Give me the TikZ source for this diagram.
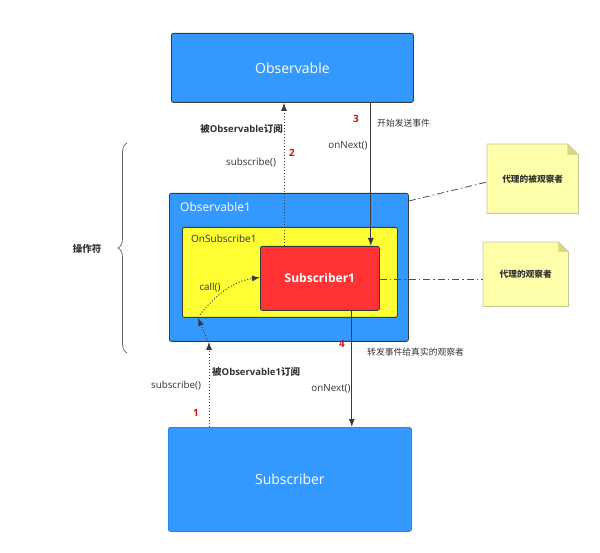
\documentclass[tikz,border=0pt]{standalone}
\usepackage{fontspec}
\setmainfont{Open Sans}
\newfontfamily\cjk{Noto Sans CJK SC}
\usetikzlibrary{arrows.meta,calc,decorations.pathreplacing}
\definecolor{boxblue}{HTML}{3399FF}
\definecolor{bluedge}{HTML}{2B86E0}
\definecolor{edgegray}{HTML}{3A3A3A}
\definecolor{subred}{HTML}{FF3333}
\definecolor{osyellow}{HTML}{FFFF33}
\definecolor{notefill}{HTML}{FFFFAA}
\definecolor{noteedge}{HTML}{C8C8A0}
\definecolor{notefold}{HTML}{D8D880}
\definecolor{numred}{HTML}{CC1111}
\definecolor{txt}{HTML}{333333}
\tikzset{
  box/.style={rectangle, anchor=north west, inner sep=0pt, rounded corners=2pt, line width=0.8pt},
  bluebox/.style={box, fill=boxblue, draw=edgegray},
  lbl/.style={inner sep=0pt, text=txt, font=\fontsize{9.8}{11}\selectfont},
  blbl/.style={lbl, font=\fontsize{9.5}{11}\selectfont\bfseries},
  num/.style={inner sep=0pt, text=numred, font=\fontsize{10}{12}\selectfont\bfseries},
  notebox/.style={rectangle, anchor=north west, inner sep=0pt, draw=none},
  notetxt/.style={inner sep=0pt, text=txt, font=\cjk\fontsize{8.7}{10}\selectfont\bfseries},
  solidarr/.style={draw=edgegray, line width=0.8pt, -{Latex[length=8pt,width=6pt]}},
  dotarr/.style={draw=edgegray, line width=0.9pt, dash pattern=on 1.1pt off 1.9pt, -{Latex[length=8pt,width=6pt]}},
  dashdot/.style={draw=edgegray!90, line width=0.8pt, dash pattern=on 7pt off 3pt on 1.5pt off 3pt},
}
\begin{document}
\begin{tikzpicture}[x=1pt,y=-1pt]
\useasboundingbox (0,0) rectangle (600,553);

% main boxes
\node[bluebox, minimum width=242pt, minimum height=69pt] (obs) at (171,33) {};
\node[text=white, font=\fontsize{14}{16}\selectfont] at (obs.center) {Observable};

\node[box, fill=boxblue, draw=bluedge, minimum width=243pt, minimum height=104pt] (sub) at (168,427) {};
\node[text=white, font=\fontsize{14}{16}\selectfont] at (sub.center) {Subscriber};

\node[bluebox, minimum width=239pt, minimum height=148pt] (obs1) at (169,193) {};
\node[anchor=west, inner sep=0pt, text=white, font=\fontsize{12}{14}\selectfont] (obs1t) at (180,207) {Observable1};

\node[box, fill=osyellow, draw=edgegray, minimum width=215pt, minimum height=90pt] (os1) at (182,227) {};
\node[anchor=west, inner sep=0pt, text=txt, font=\fontsize{10}{12}\selectfont] (os1t) at (191,239) {OnSubscribe1};

\node[box, fill=subred, draw=edgegray, minimum width=119pt, minimum height=64pt] (sub1) at (260,246) {};
\node[text=white, font=\fontsize{12}{14}\selectfont\bfseries] at (sub1.center) {Subscriber1};

% notes
\node[notebox, minimum width=91pt, minimum height=69pt] (n1) at (487,144) {};
\draw[fill=notefill, draw=noteedge, line width=0.8pt] (n1.north west) -- ([xshift=-11pt]n1.north east) -- ([yshift=-11pt]n1.north east) -- (n1.south east) -- (n1.south west) -- cycle;
\fill[notefold] ([xshift=-11pt]n1.north east) -- ([yshift=-11pt]n1.north east) -- ([xshift=-11pt,yshift=-11pt]n1.north east) -- cycle;
\draw[draw=noteedge, line width=0.6pt] ([xshift=-11pt]n1.north east) -- ([yshift=-11pt]n1.north east);
\node[notetxt] at (n1.center) {代理的被观察者};

\node[notebox, minimum width=85pt, minimum height=64pt] (n2) at (483,242) {};
\draw[fill=notefill, draw=noteedge, line width=0.8pt] (n2.north west) -- ([xshift=-10pt]n2.north east) -- ([yshift=-10pt]n2.north east) -- (n2.south east) -- (n2.south west) -- cycle;
\fill[notefold] ([xshift=-10pt]n2.north east) -- ([yshift=-10pt]n2.north east) -- ([xshift=-10pt,yshift=-10pt]n2.north east) -- cycle;
\draw[draw=noteedge, line width=0.6pt] ([xshift=-10pt]n2.north east) -- ([yshift=-10pt]n2.north east);
\node[notetxt] at (n2.center) {代理的观察者};

% note connectors
\draw[dashdot] ([yshift=-8pt]obs1.north east) -- ([yshift=-38pt]n1.north west);
\draw[dashdot] ([yshift=-1pt]sub1.east) -- ([yshift=-1pt]sub1.east -| n2.west);

% arrow 2 (dotted, up to Observable)
\draw[dotarr] ([xshift=24pt]sub1.north west) -- ([xshift=24pt]sub1.north west |- obs.south);
% arrow 3 (solid, down to Subscriber1)
\draw[solidarr] ([xshift=-9pt]sub1.north east |- obs.south) -- ([xshift=-9pt]sub1.north east);
% arrow 4 (solid, down to Subscriber)
\draw[solidarr] ([xshift=-28pt]sub1.south east) -- ([xshift=-28pt]sub1.south east |- sub.north);
% arrow 1 (dotted, up to Observable1)
\draw[dotarr] ([xshift=41pt]sub.north west) -- ([xshift=41pt]sub.north west |- obs1.south);
\draw[dotarr] ([xshift=39pt]obs1.south west) -- ([xshift=16pt]os1.south west);
% call()
\draw[dotarr] ([xshift=18pt,yshift=3pt]os1.south west) .. controls +(14pt,18pt) and +(-28pt,-4pt) .. ([yshift=1pt]sub1.west);

% labels
\node[blbl, anchor=east] (l2a) at (283,129) {{\cjk 被}Observable{\cjk 订阅}};
\node[lbl] (l2b) at (251,163) {subscribe()};
\node[num] (n2n) at (292,153) {2};
\node[num] (n3n) at (356,119) {3};
\node[lbl, anchor=west, font=\cjk\fontsize{8.8}{10}\selectfont] (l3a) at (377,123) {开始发送事件};
\node[lbl] (l3b) at (348,146) {onNext()};
\node[num] (n4n) at (342,344) {4};
\node[lbl, anchor=west, font=\cjk\fontsize{8.8}{10}\selectfont] (l4a) at (367,352) {转发事件给真实的观察者};
\node[lbl] (l4b) at (331,389) {onNext()};
\node[blbl, anchor=west] (l1a) at (212,372) {{\cjk 被}Observable1{\cjk 订阅}};
\node[lbl] (l1b) at (176,386) {subscribe()};
\node[num] (n1n) at (196,413) {1};
\node[lbl] (lcall) at (210,288) {call()};

% brace
\draw[draw=edgegray!80, line width=0.7pt, decoration={brace, amplitude=9pt}, decorate] (127,353) -- (127,143);
\node[lbl, font=\cjk\fontsize{9.5}{11}\selectfont\bfseries] (op) at (87,249) {操作符};
\end{tikzpicture}
\end{document}
